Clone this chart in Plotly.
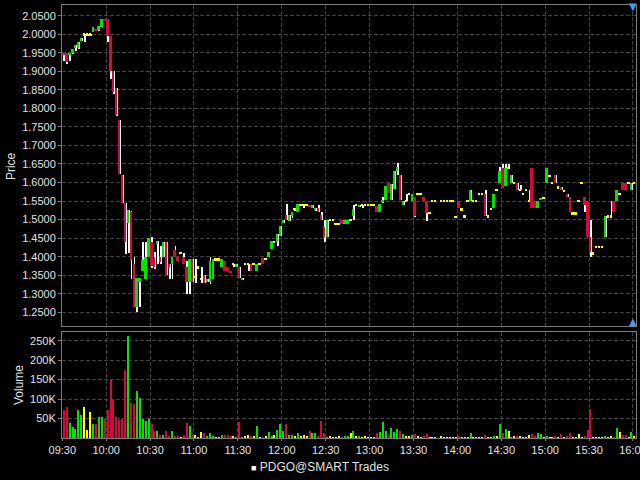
import plotly.graph_objects as go
import pandas as pd

# ---------------- data (2-minute bars, PDGO@SMART) ----------------
bar_start = pd.date_range("2024-01-02 09:30", periods=196, freq="2min")

open_ = [1.950,1.950,1.944,1.950,1.962,1.962,1.982,2.000,2.000,2.000,
         2.005,2.014,2.012,2.020,2.040,2.040,1.995,1.900,1.855,1.770,
         1.620,1.545,1.490,1.520,1.380,1.263,1.333,1.360,1.340,1.400,
         1.440,1.400,1.436,1.400,1.400,1.439,1.380,1.380,1.419,1.400,
         1.410,1.400,1.371,1.331,1.394,1.345,1.371,1.340,1.351,1.331,
         1.331,1.340,1.393,1.393,1.371,1.389,1.371,1.362,1.380,1.371,
         1.371,1.339,1.380,1.380,1.380,1.380,1.362,1.380,1.396,1.394,
         1.400,1.420,1.440,1.440,1.455,1.490,1.512,1.496,1.510,1.529,
         1.520,1.540,1.540,1.540,1.540,1.532,1.527,1.530,1.512,1.480,
         1.452,1.500,1.500,1.489,1.489,1.500,1.489,1.489,1.500,1.510,
         1.540,1.536,1.540,1.540,1.540,1.540,1.540,1.537,1.520,1.547,
         1.552,1.600,1.552,1.582,1.630,1.620,1.540,1.550,1.570,1.550,
         1.560,1.570,1.570,1.560,1.550,1.518,1.550,1.550,None,1.550,
         1.550,1.550,1.550,1.550,1.508,1.550,1.528,1.509,1.550,1.550,
         1.550,1.550,1.569,1.569,1.569,1.509,1.529,1.531,1.580,1.600,
         1.640,1.590,1.640,1.600,1.599,1.600,1.580,1.569,1.580,1.550,
         1.640,1.550,1.531,1.552,1.559,1.600,1.619,1.600,1.619,1.587,
         1.589,1.578,1.569,1.560,1.517,1.517,1.550,1.600,1.560,1.551,
         1.452,1.409,1.427,1.427,1.427,1.452,1.509,1.509,1.551,1.551,
         1.569,1.600,1.600,1.600,1.581,1.600]

high = [1.950,1.950,1.950,1.960,1.971,1.980,1.991,2.000,2.000,2.000,
        2.020,2.014,2.022,2.040,2.040,2.040,1.995,1.900,1.855,1.770,
        1.620,1.545,1.525,1.522,1.400,1.343,1.343,1.440,1.440,1.450,
        1.452,1.412,1.441,1.430,1.440,1.439,1.380,1.400,1.430,1.400,
        1.410,1.410,1.389,1.394,1.394,1.394,1.371,1.371,1.351,1.340,
        1.400,1.394,1.393,1.393,1.394,1.389,1.371,1.362,1.380,1.380,
        1.371,1.342,1.380,1.380,1.380,1.380,1.380,1.380,1.396,1.394,
        1.412,1.441,1.440,1.460,1.482,1.500,1.541,1.512,1.520,1.529,
        1.541,1.540,1.540,1.540,1.540,1.540,1.530,1.540,1.520,1.500,
        1.500,1.500,1.500,1.489,1.489,1.500,1.500,1.500,1.500,1.540,
        1.540,1.540,1.540,1.540,1.540,1.540,1.540,1.537,1.541,1.560,
        1.590,1.600,1.595,1.630,1.652,1.620,1.550,1.570,1.570,1.570,
        1.560,1.570,1.570,1.560,1.550,1.518,1.550,1.550,None,1.550,
        1.550,1.550,1.550,1.550,1.508,1.550,1.528,1.509,1.550,1.581,
        1.550,1.550,1.569,1.569,1.581,1.509,1.529,1.569,1.580,1.641,
        1.650,1.650,1.650,1.619,1.599,1.600,1.592,1.569,1.580,1.580,
        1.640,1.550,1.550,1.559,1.559,1.640,1.619,1.600,1.619,1.587,
        1.589,1.578,1.569,1.560,1.517,1.517,1.550,1.600,1.560,1.551,
        1.499,1.409,1.427,1.427,1.427,1.511,1.509,1.550,1.551,1.581,
        1.569,1.600,1.600,1.600,1.600,1.600]

low = [1.928,1.921,1.929,1.948,1.955,1.961,1.982,1.980,1.997,1.997,
       2.005,2.010,2.010,2.020,2.036,1.980,1.880,1.840,1.780,1.622,
       1.545,1.408,1.410,1.340,1.263,1.252,1.263,1.360,1.340,1.400,
       1.370,1.368,1.380,1.380,1.400,1.351,1.340,1.340,1.400,1.389,
       1.410,1.380,1.300,1.300,1.331,1.330,1.371,1.330,1.330,1.331,
       1.327,1.340,1.393,1.393,1.371,1.360,1.360,1.357,1.371,1.371,
       1.342,1.339,1.380,1.362,1.362,1.380,1.360,1.380,1.380,1.394,
       1.400,1.420,1.440,1.430,1.455,1.490,1.500,1.496,1.505,1.525,
       1.520,1.540,1.530,1.540,1.536,1.532,1.525,1.520,1.500,1.440,
       1.452,1.500,1.500,1.489,1.489,1.489,1.489,1.489,1.500,1.498,
       1.540,1.536,1.530,1.540,1.540,1.540,1.540,1.520,1.520,1.545,
       1.552,1.571,1.552,1.582,1.620,1.552,1.540,1.550,1.570,1.550,
       1.508,1.570,1.570,1.550,1.497,1.518,1.550,1.550,None,1.550,
       1.550,1.550,1.550,1.550,1.508,1.530,1.528,1.509,1.550,1.550,
       1.550,1.550,1.569,1.569,1.511,1.509,1.529,1.531,1.580,1.600,
       1.586,1.590,1.640,1.600,1.599,1.581,1.580,1.569,1.580,1.550,
       1.531,1.531,1.531,1.552,1.559,1.600,1.619,1.600,1.600,1.587,
       1.580,1.578,1.560,1.520,1.517,1.517,1.550,1.600,1.520,1.452,
       1.398,1.409,1.427,1.427,1.427,1.452,1.509,1.509,1.520,1.551,
       1.569,1.581,1.581,1.600,1.581,1.600]

close = [1.946,1.926,1.950,1.960,1.971,1.980,1.991,2.000,2.000,2.000,
         2.020,2.010,2.022,2.040,2.037,1.995,1.900,1.845,1.782,1.622,
         1.545,1.440,1.525,1.390,1.263,1.343,1.343,1.390,1.400,1.450,
         1.375,1.371,1.441,1.385,1.440,1.351,1.371,1.400,1.400,1.389,
         1.410,1.380,1.331,1.394,1.331,1.345,1.371,1.340,1.330,1.340,
         1.387,1.394,1.393,1.393,1.394,1.360,1.360,1.357,1.380,1.380,
         1.342,1.342,1.380,1.380,1.362,1.380,1.380,1.380,1.380,1.394,
         1.412,1.441,1.440,1.460,1.482,1.500,1.500,1.512,1.520,1.529,
         1.541,1.540,1.540,1.540,1.536,1.540,1.530,1.520,1.500,1.452,
         1.500,1.500,1.500,1.489,1.489,1.489,1.500,1.500,1.500,1.528,
         1.540,1.540,1.540,1.540,1.540,1.540,1.540,1.520,1.541,1.553,
         1.590,1.571,1.595,1.630,1.641,1.552,1.550,1.550,1.570,1.570,
         1.510,1.570,1.570,1.550,1.519,1.518,1.550,1.550,None,1.550,
         1.550,1.550,1.550,1.550,1.508,1.530,1.528,1.509,1.550,1.581,
         1.550,1.550,1.569,1.569,1.511,1.509,1.529,1.569,1.580,1.630,
         1.586,1.640,1.640,1.619,1.599,1.581,1.580,1.569,1.580,1.550,
         1.531,1.531,1.550,1.559,1.559,1.640,1.619,1.600,1.600,1.587,
         1.580,1.578,1.560,1.520,1.517,1.517,1.550,1.600,1.540,1.452,
         1.412,1.409,1.427,1.427,1.427,1.511,1.509,1.509,1.520,1.581,
         1.569,1.581,1.581,1.600,1.600,1.600]

volume_k = [71,80,39,27,22,71,58,80,20,68,
            37,37,55,53,48,73,150,100,54,45,
            50,175,262,90,88,122,104,50,43,48,
            35,17,17,8,8,18,3,18,3,5,
            1,8,38,31,8,8,1,15,12,5,
            12,5,1,1,8,8,8,5,3,1,
            41,1,3,8,3,3,31,1,1,3,
            15,5,8,20,36,18,36,8,8,5,
            13,5,8,5,18,13,13,5,44,13,
            1,3,1,1,3,1,3,3,13,18,
            3,5,1,3,1,1,1,13,15,41,
            18,8,26,15,23,18,10,3,3,8,
            10,3,1,5,10,1,1,1,None,3,
            1,1,1,1,1,5,1,1,1,13,
            1,1,1,1,8,1,1,5,5,36,
            13,23,18,1,3,5,5,1,1,8,
            10,3,13,10,1,5,1,1,3,1,
            10,1,3,13,1,1,10,1,5,20,
            74,1,1,1,1,3,1,3,1,26,
            15,8,8,1,15,5]

x_ticks = ["09:30", "10:00", "10:30", "11:00", "11:30", "12:00", "12:30",
           "13:00", "13:30", "14:00", "14:30", "15:00", "15:30", "16:00"]
price_ticks = [1.25, 1.30, 1.35, 1.40, 1.45, 1.50, 1.55, 1.60, 1.65, 1.70,
               1.75, 1.80, 1.85, 1.90, 1.95, 2.00, 2.05]
vol_ticks = [50000, 100000, 150000, 200000, 250000]
vol_tick_text = ["50K", "100K", "150K", "200K", "250K"]

# ---------------- styling ----------------
GREEN, RED, YELLOW = "#00E400", "#D40A3C", "#FFFF00"
GRID, LINE, TXT = "#404040", "#7c7c7c", "#e2e2e2"
FONT = "Liberation Sans, Arial, sans-serif"
MIN_BODY = 0.005

idx = [i for i in range(len(open_)) if open_[i] is not None]
mid = [bar_start[i] + pd.Timedelta(seconds=60) for i in idx]
wick_x = [bar_start[i] + pd.Timedelta(seconds=80) for i in idx]


def colour(o, c):
    if c > o + 1e-9:
        return GREEN
    if c < o - 1e-9:
        return RED
    return YELLOW


colors = [colour(open_[i], close[i]) for i in idx]
body_base, body_h = [], []
for i in idx:
    o, c = open_[i], close[i]
    h = abs(c - o)
    if h < MIN_BODY:
        body_base.append((o + c) / 2 - MIN_BODY / 2)
        body_h.append(MIN_BODY)
    else:
        body_base.append(min(o, c))
        body_h.append(h)

fig = go.Figure()
fig.add_trace(go.Bar(x=wick_x, y=[high[i] - low[i] for i in idx],
                     base=[low[i] for i in idx], width=36000,
                     marker=dict(color="#ffffff", line=dict(width=0)),
                     xaxis="x", yaxis="y", hoverinfo="skip", showlegend=False))
fig.add_trace(go.Bar(x=mid, y=body_h, base=body_base, width=80000,
                     marker=dict(color=colors, line=dict(width=0)),
                     xaxis="x", yaxis="y", hoverinfo="skip", showlegend=False))
fig.add_trace(go.Bar(x=mid, y=[volume_k[i] * 1000 for i in idx], width=42000,
                     marker=dict(color=colors, line=dict(width=0)),
                     xaxis="x2", yaxis="y2", hoverinfo="skip", showlegend=False))

x_range = ["2024-01-02 09:29:48", "2024-01-02 16:02:06"]
tickvals_x = ["2024-01-02 " + t for t in x_ticks]

common_x = dict(range=x_range, type="date", showgrid=True, gridcolor=GRID,
                griddash="4px,2px", gridwidth=1, showline=True, linecolor=LINE,
                linewidth=1, mirror=True, zeroline=False, tickvals=tickvals_x,
                ticktext=x_ticks, tickfont=dict(family=FONT, size=11, color=TXT),
                automargin=False)
common_y = dict(showgrid=True, gridcolor=GRID, griddash="4px,2px", gridwidth=1,
                showline=True, linecolor=LINE, linewidth=1, mirror=True,
                zeroline=False, ticks="outside", ticklen=3, tickcolor=LINE,
                tickfont=dict(family=FONT, size=11, color=TXT), automargin=False)

fig.update_layout(
    width=640, height=480,
    margin=dict(l=62, r=4, t=5, b=42),
    paper_bgcolor="#000000", plot_bgcolor="#000000",
    barmode="overlay", bargap=0, showlegend=False,
    xaxis=dict(common_x, domain=[0, 1], anchor="y", showticklabels=False, ticks=""),
    yaxis=dict(common_y, domain=[0.2587, 1], anchor="x", range=[1.2130, 2.0789],
               tickvals=price_ticks, tickformat=".4f"),
    xaxis2=dict(common_x, domain=[0, 1], anchor="y2", ticks="outside",
                ticklen=2, tickcolor=LINE, ticklabeloverflow="allow"),
    yaxis2=dict(common_y, domain=[0, 0.2448], anchor="x2", range=[0, 272400],
                tickvals=vol_ticks, ticktext=vol_tick_text),
)

ann_font = dict(family=FONT, size=12, color=TXT)
fig.add_annotation(text="Price", x=-0.0889, y=0.628, xref="paper", yref="paper",
                   xanchor="center", yanchor="middle",
                   textangle=-90, showarrow=False, font=ann_font)
fig.add_annotation(text="Volume", x=-0.0749, y=0.1224, xref="paper", yref="paper",
                   xanchor="center", yanchor="middle",
                   textangle=-90, showarrow=False, font=ann_font)
fig.add_annotation(text="<span style='color:#ffffff;font-size:9px'>■</span> PDGO@SMART Trades",
                   x=0.4495, y=-0.067, xref="paper", yref="paper",
                   xanchor="center", yanchor="middle",
                   showarrow=False, font=ann_font)
fig.add_annotation(text="▼", x=0.9948, y=0.9954, xref="paper", yref="paper",
                   xanchor="center", yanchor="middle",
                   showarrow=False, font=dict(family="DejaVu Sans", size=10, color="#4a9be8"))
fig.add_annotation(text="▲", x=0.9948, y=0.2679, xref="paper", yref="paper",
                   xanchor="center", yanchor="middle",
                   showarrow=False, font=dict(family="DejaVu Sans", size=10, color="#4a9be8"))

fig.write_html("out.html", config={"displayModeBar": False},
               post_script="document.body.style.margin='0';")
